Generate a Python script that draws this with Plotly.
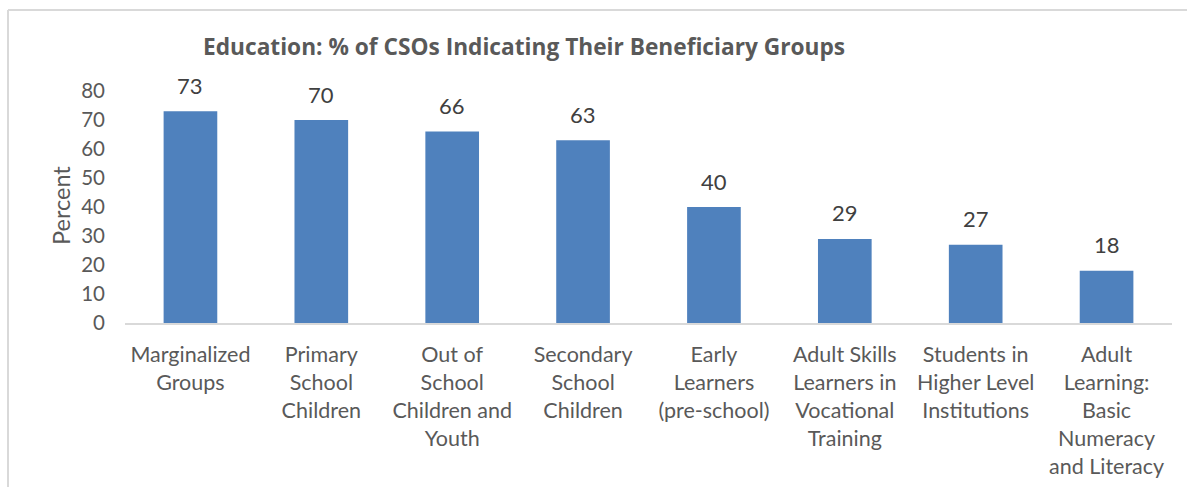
import plotly.graph_objects as go

categories = [
    "Marginalized<br>Groups",
    "Primary<br>School<br>Children",
    "Out of<br>School<br>Children and<br>Youth",
    "Secondary<br>School<br>Children",
    "Early<br>Learners<br>(pre-school)",
    "Adult Skills<br>Learners in<br>Vocational<br>Training",
    "Students in<br>Higher Level<br>Institutions",
    "Adult<br>Learning:<br>Basic<br>Numeracy<br>and Literacy",
]
values = [73, 70, 66, 63, 40, 29, 27, 18]
y_ticks = [0, 10, 20, 30, 40, 50, 60, 70, 80]

W, H = 1187, 487
L, R, T, B = 125, 15, 91, 164
pw, ph = W - L - R, H - T - B

def px_x(x):
    return (x - L) / pw

def px_y(y):
    return (H - B - y) / ph

FONT = "Lato"
fig = go.Figure()
fig.add_trace(go.Bar(
    x=categories, y=values,
    marker=dict(color="#4F81BD", line=dict(width=0)),
    width=0.41, hoverinfo="x+y",
))

label_annotations = [
    dict(x=c, y=v, xref="x", yref="y", text=str(v), showarrow=False,
         yanchor="middle", xanchor="center", yshift=26,
         font=dict(family=FONT, size=22, color="#404040"))
    for c, v in zip(categories, values)
]

fig.update_layout(
    width=W, height=H,
    margin=dict(l=L, r=R, t=T, b=B, autoexpand=False),
    paper_bgcolor="white", plot_bgcolor="white",
    showlegend=False,
    font=dict(family=FONT, color="#595959", size=20),
    xaxis=dict(showline=True, linecolor="#D9D9D9", linewidth=2, automargin=False,
               ticks="", tickfont=dict(family=FONT, size=21.5, color="#595959"),
               ticklabelstandoff=11, showgrid=False, zeroline=False),
    yaxis=dict(range=[0, 80], tickvals=y_ticks, showgrid=False, zeroline=False,
               showline=False, ticks="", ticklabelstandoff=19, automargin=False,
               tickfont=dict(family=FONT, size=20.5, color="#595959")),
    annotations=label_annotations + [
        dict(text="<b>Education: % of CSOs Indicating Their Beneficiary Groups</b>",
             x=px_x(524), y=px_y(47), xref="paper", yref="paper",
             xanchor="center", yanchor="middle", showarrow=False,
             font=dict(family="Open Sans", size=22.7, color="#595959")),
        dict(text="Percent", textangle=-90,
             x=px_x(61), y=px_y(206), xref="paper", yref="paper",
             xanchor="center", yanchor="middle", showarrow=False,
             font=dict(family=FONT, size=23.5, color="#595959")),
    ],
    shapes=[
        dict(type="line", xref="paper", yref="paper",
             x0=px_x(8), x1=px_x(1195), y0=px_y(10), y1=px_y(10),
             line=dict(color="#D9D9D9", width=2)),
        dict(type="line", xref="paper", yref="paper",
             x0=px_x(8), x1=px_x(8), y0=px_y(10), y1=px_y(495),
             line=dict(color="#D9D9D9", width=2)),
    ],
)

fig.write_html("out.html", config={"displayModeBar": False},
               post_script="document.body.style.margin='0';")
